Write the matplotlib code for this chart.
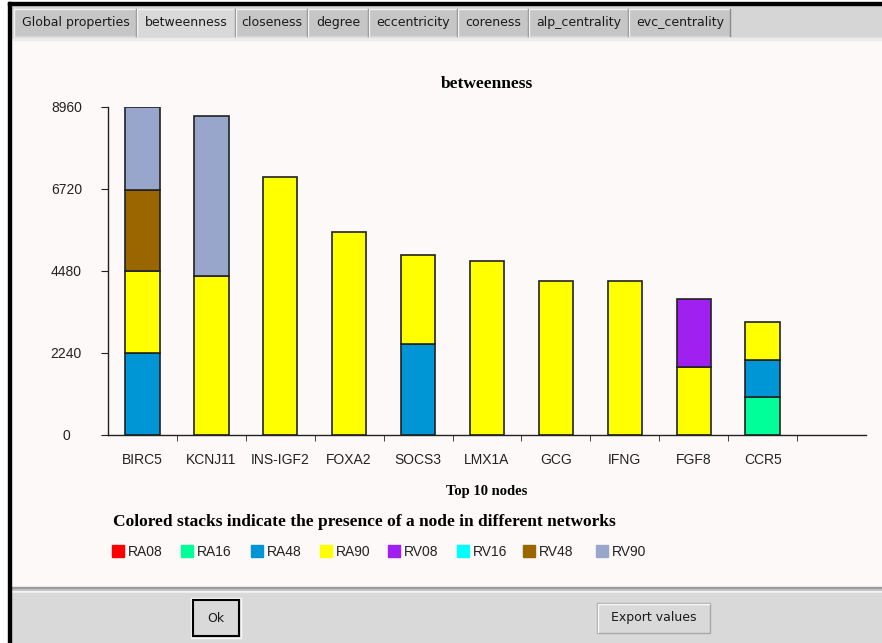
import matplotlib
matplotlib.use('Agg')
import matplotlib.pyplot as plt
import numpy as np
from matplotlib.patches import Rectangle

nodes = ['BIRC5', 'KCNJ11', 'INS-IGF2', 'FOXA2', 'SOCS3', 'LMX1A', 'GCG', 'IFNG', 'FGF8', 'CCR5']
networks = ['RA08', 'RA16', 'RA48', 'RA90', 'RV08', 'RV16', 'RV48', 'RV90']
colors = ['#ff0000', '#00ff99', '#0096d6', '#ffff00', '#a020f0', '#00ffff', '#996600', '#99a6cc']

# betweenness per network, stacked in network order
RA08 = [0, 0, 0, 0, 0, 0, 0, 0, 0, 0]
RA16 = [0, 0, 0, 0, 0, 0, 0, 0, 0, 1040]
RA48 = [2235, 0, 0, 0, 2475, 0, 0, 0, 0, 1020]
RA90 = [2240, 4340, 7060, 5545, 2450, 4755, 4205, 4205, 1865, 1035]
RV08 = [0, 0, 0, 0, 0, 0, 0, 0, 1860, 0]
RV16 = [0, 0, 0, 0, 0, 0, 0, 0, 0, 0]
RV48 = [2215, 0, 0, 0, 0, 0, 0, 0, 0, 0]
RV90 = [2260, 4385, 0, 0, 0, 0, 0, 0, 0, 0]
series = [RA08, RA16, RA48, RA90, RV08, RV16, RV48, RV90]
yticks = [0, 2240, 4480, 6720, 8960]

W, H = 882, 643
fig = plt.figure(figsize=(W / 100, H / 100), dpi=100)

# window chrome drawn in pixel coordinates
bg = fig.add_axes([0, 0, 1, 1])
bg.set_xlim(0, W)
bg.set_ylim(H, 0)
bg.axis('off')
bg.add_patch(Rectangle((0, 0), W, H, color='white'))
bg.add_patch(Rectangle((11, 4), W, 34, color='#d6d6d6'))
bg.add_patch(Rectangle((13, 38), W, 550, color='#fdf9f8'))
bg.add_patch(Rectangle((13, 38), W, 1.5, color='#ececec'))
bg.add_patch(Rectangle((11, 587), W, 2, color='#9a9a9a'))
bg.add_patch(Rectangle((11, 589), W, 2, color='#bdbdbd'))
bg.add_patch(Rectangle((11, 591), W, 2, color='#f4f4f4'))
bg.add_patch(Rectangle((11, 593), W, 50, color='#d9d9d9'))
bg.add_patch(Rectangle((8, 2), W, 2.5, color='black'))
bg.add_patch(Rectangle((8, 2), 3, H, color='black'))

tabs = ['Global properties', 'betweenness', 'closeness', 'degree', 'eccentricity',
        'coreness', 'alp_centrality', 'evc_centrality']
tab_x = [14, 137, 236, 308, 369, 458, 529, 629, 731]
for i, t in enumerate(tabs):
    x0, x1 = tab_x[i], tab_x[i + 1]
    sel = t == 'betweenness'
    bg.add_patch(Rectangle((x0, 9), x1 - x0 - 1, 27, facecolor='#d9d9d9' if sel else '#c6c6c6',
                           edgecolor='none'))
    bg.plot([x0, x0, x1 - 1], [36, 9, 9], color='#f2f2f2', lw=1)
    bg.plot([x1 - 1, x1 - 1], [9, 36], color='#8a8a8a', lw=1)
    bg.text((x0 + x1) / 2, 22.5, t, ha='center', va='center', fontsize=9, color='#1a1a1a',
            family='DejaVu Sans')

# buttons
bg.add_patch(Rectangle((191, 598), 50, 40, facecolor='none', edgecolor='#f8f8f8', lw=1))
bg.add_patch(Rectangle((193, 600), 46, 36, facecolor='#d9d9d9', edgecolor='black', lw=1.5))
bg.text(216, 618, 'Ok', ha='center', va='center', fontsize=9, color='#1a1a1a')
bg.add_patch(Rectangle((597, 603), 113, 30, facecolor='#d9d9d9', edgecolor='#a8a8a8', lw=1))
bg.plot([598, 598, 709], [632, 604, 604], color='#f8f8f8', lw=1)
bg.text(653.5, 618, 'Export values', ha='center', va='center', fontsize=9, color='#1a1a1a')

# texts
serif = 'Liberation Serif'
bg.text(487, 84, 'betweenness', ha='center', va='center', fontsize=12.5, fontweight='bold',
        family=serif)
bg.text(487, 492, 'Top 10 nodes', ha='center', va='center', fontsize=10.5, fontweight='bold',
        family=serif)
bg.text(113, 522, 'Colored stacks indicate the presence of a node in different networks',
        ha='left', va='center', fontsize=12.5, fontweight='bold', family=serif)
leg_x = [112, 181, 251, 320, 388, 457, 523, 596]
for lx, name, c in zip(leg_x, networks, colors):
    bg.add_patch(Rectangle((lx, 545), 12, 12, color=c))
    bg.text(lx + 16, 552, name, ha='left', va='center', fontsize=10, family='Liberation Sans',
            color='#222222')

# chart
left, right, top, bottom = 108, 866, 107, 435
ax = fig.add_axes([left / W, 1 - bottom / H, (right - left) / W, (bottom - top) / H])
ax.patch.set_alpha(0)
x = np.arange(len(nodes))
base = np.zeros(len(nodes))
for vals, c in zip(series, colors):
    v = np.array(vals, dtype=float)
    m = v > 0
    ax.bar(x[m], v[m], 0.5, bottom=base[m], color=c, edgecolor='#222222', linewidth=1.2)
    base += v

ax.set_xlim(-0.5, 10.5)
ax.set_ylim(0, 8960)
for s in ['top', 'right']:
    ax.spines[s].set_visible(False)
for s in ['left', 'bottom']:
    ax.spines[s].set_color('#222222')
    ax.spines[s].set_linewidth(1)
ax.set_xticks(x)
ax.set_xticklabels(nodes, fontsize=10, family='Liberation Sans', color='#222222')
ax.set_xticks(np.arange(0.5, 10, 1), minor=True)
ax.tick_params(axis='x', which='major', length=0, pad=13)
ax.tick_params(axis='x', which='minor', length=4, color='#222222')
ax.set_yticks(yticks)
ax.set_yticklabels([str(t) for t in yticks], fontsize=10, family='Liberation Sans',
                   color='#222222', ha='center')
ax.tick_params(axis='y', length=5, pad=25, color='#222222')

fig.savefig('out.png', dpi=100)
